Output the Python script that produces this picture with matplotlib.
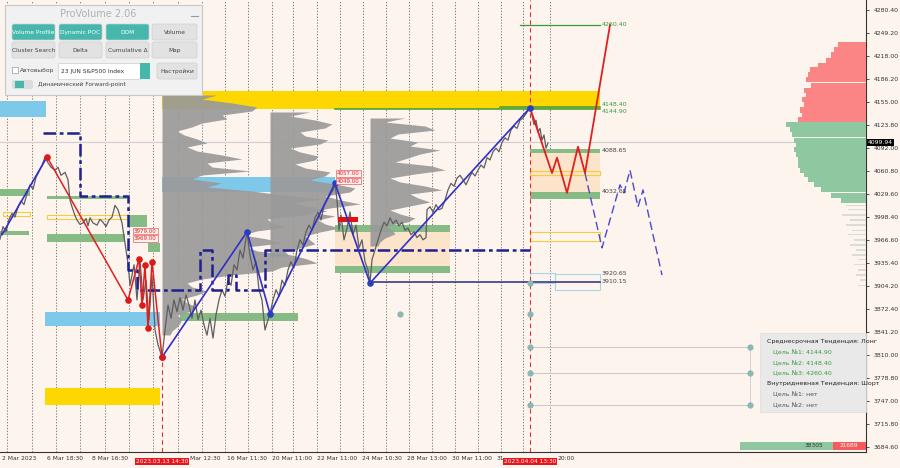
import numpy as np
import matplotlib
matplotlib.use('Agg')
import matplotlib.pyplot as plt
from matplotlib.patches import Rectangle, FancyBboxPatch
import matplotlib.transforms as mtransforms

BG = '#fdf4ee'

# ---------------- data ----------------
price_ticks = [4280.40, 4249.20, 4218.00, 4186.20, 4155.00, 4123.80, 4092.00, 4060.80,
               4029.60, 3998.40, 3966.60, 3935.40, 3904.20, 3872.40, 3841.20, 3810.00,
               3778.80, 3747.00, 3715.80, 3684.60]
time_ticks = [2, 47, 92, 190, 227, 272, 317, 362, 407, 452, 497, 557]
time_labels = ['2 Mar 2023', '6 Mar 18:30', '8 Mar 16:30', 'Mar 12:30', '16 Mar 11:30',
               '20 Mar 11:00', '22 Mar 11:00', '24 Mar 10:30', '28 Mar 13:00',
               '30 Mar 11:00', '31', '20:00']
grid_times = [7, 32, 56, 80, 105, 129, 153, 178, 202, 225, 248, 272, 293, 317, 340, 363,
              386, 409, 432, 455, 478, 501, 523, 550]
highlight_times = [162, 530]
highlight_labels = ['2023.03.13 14:30', '2023.04.04 13:30']
last_price = 4099.94

price_x = [0, 3, 6, 9, 12, 15, 18, 21, 24, 27, 30, 33, 36, 39, 42, 45,
           48, 51, 55, 58, 61, 65, 68, 70, 72, 75, 77, 80, 83, 86, 88, 90, 93, 97, 100, 103,
           106, 109, 112, 115, 118, 122, 125, 128,
           130, 134, 137, 140, 143, 146, 149, 152, 155, 158, 162,
           165, 168, 171, 174, 177, 180, 183, 186, 189, 192, 195, 198, 201, 204, 207, 210,
           213, 216, 219, 222, 225, 228, 231, 234, 237, 240, 243, 247,
           250, 253, 256, 259, 262, 265, 268, 270,
           273, 276, 279, 282, 285, 288, 291, 294, 297, 300, 303, 306, 309, 312, 315, 318,
           321, 324, 327, 330, 333, 335,
           337, 339, 341, 344, 347, 350, 353, 356, 359, 362, 365, 368, 370,
           372, 375, 378, 381, 384, 387, 390, 393, 396, 399, 402, 405, 408, 411, 414, 417,
           420, 423, 426, 427, 430, 433, 436, 439, 442, 445, 448, 451, 454, 457, 460, 463,
           466, 469, 472, 475, 478, 481, 484, 487, 490, 493, 496, 499, 502, 505, 508, 511,
           514, 517, 520, 523, 526, 530,
           532, 534, 536, 538, 540, 542, 544, 546, 548]
price_close = [3968, 3985, 3978, 3995, 4003, 3998, 4012, 4020, 4015, 4030, 4042, 4036, 4052, 4060, 4068, 4080,
               4072, 4066, 4062, 4066, 4055, 4059, 4049, 4021, 4012, 4000, 3994, 3988, 3990, 3996, 3986, 3997, 3990, 3987, 3995, 3991,
               3985, 3994, 3998, 4014, 4008, 3990, 3963, 3935,
               3905, 3933, 3885, 3940, 3885, 3912, 3858, 3919, 3844, 3824, 3807,
               3844, 3878, 3860, 3885, 3869, 3888, 3871, 3892, 3878, 3860, 3885, 3858, 3871, 3851, 3837, 3860,
               3833, 3865, 3885, 3899, 3890, 3912, 3905, 3933, 3926, 3953, 3942, 3978,
               3946, 3926, 3937, 3899, 3885, 3844, 3858, 3866,
               3885, 3899, 3890, 3912, 3905, 3926, 3937, 3929, 3953, 3967, 3960, 3978, 3987, 3980, 3997, 4005,
               3994, 4014, 4021, 4028, 4035, 4044,
               4021, 3980, 4001, 3967, 3983, 4005, 3974, 3987, 3956, 3967, 3937, 3926, 3908,
               3940, 3953, 3967, 3980, 3991, 3986, 3997, 3989, 3994, 3986, 3991, 3980, 3983, 3974, 3978, 3970,
               3974, 3967, 3970, 4008, 4012, 4005, 4015, 4008, 4010, 4021, 4035, 4044, 4040, 4051, 4055, 4049,
               4042, 4051, 4059, 4054, 4062, 4069, 4065, 4079, 4076, 4087, 4092, 4087, 4100, 4106, 4103, 4117,
               4122, 4119, 4130, 4133, 4139, 4147,
               4137, 4124, 4130, 4114, 4119, 4103, 4110, 4092, 4099]

# zigzags
blue_zz1_x = [2, 47]
blue_zz1_p = [3974, 4080]
blue_zz2_x = [162, 247, 270, 335, 370, 530]
blue_zz2_p = [3807, 3978, 3866, 4044, 3908, 4147]
red_zz_x = [47, 128, 139, 142, 145, 148, 152, 162]
red_zz_p = [4080, 3885, 3941, 3878, 3933, 3847, 3937, 3807]
red_fc_x = [530, 552, 557, 567, 578, 585, 610]
red_fc_p = [4147, 4058, 4079, 4031, 4094, 4058, 4260]
blue_fc_x = [585, 602, 620, 624, 630, 638, 643, 662]
blue_fc_p = [4058, 3956, 4042, 4031, 4062, 4012, 4035, 3919]

# dynamic POC steps
poc_x = [43, 80, 80, 128, 128, 137, 137, 200, 200, 212, 212, 228, 228, 236, 236, 265, 265, 530]
poc_p = [4112.7, 4112.7, 4026.8, 4026.8, 3925.9, 3925.9, 3898.6, 3898.6, 3953.2, 3953.2,
         3898.6, 3898.6, 3919.1, 3919.1, 3898.6, 3898.6, 3953.2, 3953.2]

# zones (t0, t1, top, bottom)
yellow_zones = [(162, 600, 4170, 4146), (45, 160, 3765, 3742)]
blue_zones = [(0, 46, 4156, 4134), (162, 335, 4053, 4032), (45, 160, 3869, 3850)]
green_zones = [(530, 600, 4091, 4085), (530, 600, 4032, 4023), (335, 450, 3987, 3978),
               (335, 450, 3931, 3922), (180, 298, 3867, 3856), (0, 30, 4036, 4027),
               (0, 29, 3979, 3973), (47, 127, 4027, 4023), (47, 125, 3975, 3964),
               (128, 147, 4001, 3985), (148, 160, 3963, 3951)]
orange_zones = [(530, 600, 4085, 4032), (335, 450, 3978, 3931)]
yellow_outline = [(530, 600, 4061, 4055), (530, 600, 3978, 3966), (3, 30, 4005, 4000),
                  (47, 128, 4001, 3995)]
blue_outline = [(530, 555, 3922, 3908), (555, 600, 3921, 3898)]
red_zone = [(338, 358, 3998, 3991)]

# volume profiles (gray)
profA_x0 = 162
profA_p = [4164.5, 4159.0, 4153.6, 4148.1, 4142.7, 4137.2, 4131.8, 4126.3, 4120.9, 4115.4,
           4110.0, 4104.5, 4099.1, 4093.6, 4088.1, 4082.7, 4077.2, 4071.8, 4066.3, 4060.9,
           4055.4, 4050.0, 4044.5, 4039.1, 4033.6, 4028.2, 4022.7, 4017.3, 4011.8, 4006.3,
           4000.9, 3995.4, 3990.0, 3984.5, 3979.1, 3973.6, 3968.2, 3962.7, 3957.3, 3951.8,
           3946.3, 3940.9, 3935.4, 3930.0, 3924.5, 3919.1, 3913.6, 3908.2, 3902.7, 3897.3,
           3891.8, 3886.4, 3880.9, 3875.5, 3870.0, 3864.5, 3859.1, 3853.6, 3848.2, 3842.7, 3837.3]
profA_w = [55, 40, 70, 95, 90, 60, 65, 40, 30, 15, 22, 35, 45, 25, 35, 60, 80, 45, 50, 88,
           40, 30, 60, 45, 90, 120, 160, 130, 150, 165, 140, 105, 110, 125, 95, 80, 105, 120,
           85, 95, 130, 145, 155, 120, 110, 70, 40, 25, 30, 45, 35, 20, 25, 35, 30, 15, 20,
           18, 15, 10, 8]
profB_x0 = 270
profB_p = [4141.3, 4135.8, 4130.4, 4124.9, 4119.5, 4114.0, 4108.6, 4103.1, 4097.7, 4092.2,
           4086.8, 4081.3, 4075.9, 4070.4, 4065.0, 4059.5, 4054.1, 4048.6, 4043.2, 4037.7,
           4032.3, 4026.8, 4021.4, 4015.9, 4010.4, 4005.0, 3999.5, 3994.1, 3988.6, 3983.2,
           3977.7, 3972.3, 3966.8, 3961.4, 3955.9, 3950.5, 3945.0]
profB_w = [40, 20, 45, 62, 55, 30, 35, 58, 50, 20, 30, 48, 45, 25, 35, 60, 55, 40, 65, 85,
           80, 55, 70, 90, 60, 40, 65, 48, 55, 70, 50, 35, 40, 45, 30, 15, 20]
profC_x0 = 370
profC_p = [4133.1, 4127.6, 4122.2, 4116.7, 4111.3, 4105.8, 4100.4, 4094.9, 4089.5, 4084.0,
           4078.6, 4073.1, 4067.7, 4062.2, 4056.8, 4051.3, 4045.9, 4040.4, 4035.0, 4029.5,
           4024.1, 4018.6, 4013.2, 4007.7, 4002.3, 3996.8, 3991.4, 3985.9, 3980.4, 3975.0,
           3969.5, 3964.1, 3958.6]
profC_w = [35, 15, 55, 65, 28, 20, 48, 40, 70, 50, 38, 25, 62, 75, 45, 20, 30, 55, 72, 40,
           48, 60, 40, 20, 30, 45, 38, 15, 22, 25, 15, 10, 8]

# right-side market profile
sell_p = [4233, 4226, 4219, 4212, 4205, 4199, 4192, 4185, 4178, 4171, 4165, 4158, 4151,
          4144, 4137, 4131]
sell_w = [28, 32, 35, 40, 48, 56, 58, 60, 55, 62, 60, 64, 62, 66, 64, 68]
buy_p = [4124, 4117, 4110, 4103, 4096, 4090, 4083, 4076, 4069, 4062, 4056, 4049, 4042,
         4035, 4028, 4021]
buy_w = [80, 76, 74, 72, 70, 72, 70, 68, 68, 66, 62, 58, 52, 45, 35, 25]
thin_p = [4014, 4008, 4001, 3994, 3987, 3980, 3974, 3967, 3960, 3953, 3946, 3940, 3933,
          3926, 3919, 3912, 3905]
thin_w = [20, 18, 24, 16, 20, 14, 18, 12, 16, 10, 14, 8, 12, 8, 10, 6, 8]
buy_volume, sell_volume = 38305, 21689

# levels with labels (price, text, colour, vertical alignment)
level_labels = [(4260.40, '4260.40', '#3a9a3a', 'center'), (4148.40, '4148.40', '#3a9a3a', 'bottom'),
                (4144.90, '4144.90', '#3a9a3a', 'top'), (4088.65, '4088.65', '#444444', 'center'),
                (4032.65, '4032.65', '#444444', 'center'), (3920.65, '3920.65', '#444444', 'center'),
                (3910.15, '3910.15', '#444444', 'center')]
target_levels = [3820.9, 3785.5, 3741.8]

# ---------------- figure ----------------
fig = plt.figure(figsize=(9, 4.68), dpi=100, facecolor=BG)
ax = fig.add_axes([0, 16 / 468, 866 / 900, 452 / 468])
ax.set_facecolor(BG)
ax.set_xlim(0, 866)
ax.set_ylim(3677.7, 4294.0)

for g in grid_times:
    ax.axvline(g, color='#666666', lw=0.6, ls=(0, (1.5, 2)), zorder=1)

def rect(t0, t1, top, bot, **kw):
    ax.add_patch(Rectangle((t0, bot), t1 - t0, top - bot, **kw))

for z in orange_zones:
    rect(*z, facecolor='#fbe4c9', edgecolor='none', zorder=1.5)
for z in yellow_zones:
    rect(*z, facecolor='#ffd700', edgecolor='none', zorder=2)
for z in blue_zones:
    rect(*z, facecolor='#7ec9ea', edgecolor='none', zorder=2)
for z in green_zones:
    rect(*z, facecolor='#86bb86', edgecolor='none', zorder=2)
for z in yellow_outline:
    rect(*z, facecolor='none', edgecolor='#f2cf3a', lw=0.8, zorder=2.2)
for z in blue_outline:
    rect(*z, facecolor='none', edgecolor='#a9d6e6', lw=0.8, zorder=2.2)
for z in red_zone:
    rect(*z, facecolor='#e01010', edgecolor='none', zorder=5)

# gray volume profiles
for x0, ps, ws in [(profA_x0, profA_p, profA_w), (profB_x0, profB_p, profB_w),
                   (profC_x0, profC_p, profC_w)]:
    ps = np.array(ps)
    ax.fill_betweenx(ps, x0, x0 + np.array(ws), color='#9a9a9a', lw=0, alpha=0.92, zorder=3)

# right market profile
ax.barh(sell_p, sell_w, left=866 - np.array(sell_w), height=6.9, color='#fb8585', lw=0, zorder=3)
ax.barh(buy_p, buy_w, left=866 - np.array(buy_w), height=6.9, color='#8fc8a0', lw=0, zorder=3)
ax.barh(thin_p, thin_w, left=866 - np.array(thin_w), height=2.0, color='#dcdcd2', lw=0, zorder=3)

# current price line
ax.axhline(last_price, color='#cfcfcf', lw=0.8, zorder=2.5)

# vertical red dashed
ax.plot([highlight_times[0]] * 2, [3677.7, 3807], color='#e03030', lw=0.8, ls=(0, (4, 3)), zorder=4)
ax.axvline(highlight_times[1], color='#e03030', lw=0.8, ls=(0, (4, 3)), zorder=4)

# price line
ax.plot(price_x, price_close, color='#5e5e5e', lw=0.9, zorder=4)

# POC / levels
ax.plot(poc_x, poc_p, color='#1f1f8f', lw=1.8, ls=(0, (5, 1.5, 1.5, 1.5)), zorder=5)
ax.plot([370, 600], [3910.15, 3910.15], color='#2a2a7a', lw=1.1, zorder=5)
ax.plot([520, 600], [4260.40, 4260.40], color='#3a9a3a', lw=0.9, zorder=5)
ax.plot([500, 600], [4148.40, 4148.40], color='#3a9a3a', lw=1.1, zorder=5)
ax.plot([335, 600], [4144.90, 4144.90], color='#3a9a3a', lw=1.1, zorder=5)

# zigzags
ax.plot(blue_zz1_x, blue_zz1_p, color='#3030c8', lw=1.2, zorder=6)
ax.plot(blue_zz2_x, blue_zz2_p, color='#3030c8', lw=1.2, zorder=6)
ax.plot(red_zz_x, red_zz_p, color='#e02020', lw=1.1, zorder=6)
ax.scatter(blue_zz2_x, blue_zz2_p, s=14, color='#2a3fc0', zorder=7)
ax.scatter(red_zz_x, red_zz_p, s=14, color='#e01818', zorder=7)
ax.plot(red_fc_x, red_fc_p, color='#e02020', lw=1.3, zorder=6)
ax.plot(blue_fc_x, blue_fc_p, color='#4a4ad0', lw=1.0, ls=(0, (6, 3)), zorder=6)

# targets dots / lines
for tp in target_levels:
    ax.plot([530, 750], [tp, tp], color='#c8c8c8', lw=0.7, zorder=3)
    ax.scatter([530, 750], [tp, tp], s=12, color='#8ab8b4', zorder=6)
ax.plot([750, 750], [target_levels[0], target_levels[-1]], color='#d0d0d0', lw=0.7, zorder=3)
ax.scatter([530, 530, 400], [3908.2, 3865.9, 3865.9], s=12, color='#8ab8b4', zorder=6)

# level labels
for p, s, c, va in level_labels:
    ax.text(602, p, s, fontsize=4.5, color=c, va=va, ha='left', zorder=8)

# small red price boxes
for t, p, s in [(337, 4057, '4057.00'), (337, 4047, '4049.00'), (134, 3979, '3979.00'), (134, 3969, '3969.00')]:
    ax.text(t, p, s, fontsize=4.0, color='#e02020', va='center', ha='left', zorder=8,
            bbox=dict(boxstyle='square,pad=0.15', facecolor='#fff0ee', edgecolor='#e06060', lw=0.5))

# axes styling
ax.yaxis.tick_right()
ax.set_yticks(price_ticks)
ax.set_yticklabels([f'{v:.2f}' for v in price_ticks], fontsize=4.4, color='#333333')
ax.tick_params(axis='y', length=2.5, width=0.6, pad=3, color='#333333')
ax.set_xticks(time_ticks)
ax.set_xticklabels(time_labels, fontsize=4.3, color='#333333', ha='left')
ax.tick_params(axis='x', length=0, pad=3)
for sp in ['top', 'left']:
    ax.spines[sp].set_visible(False)
for sp in ['right', 'bottom']:
    ax.spines[sp].set_color('#333333')
    ax.spines[sp].set_linewidth(0.8)

trans = mtransforms.blended_transform_factory(ax.transData, ax.transAxes)
for t, s in zip(highlight_times, highlight_labels):
    ax.text(t, -0.021, s, transform=trans, fontsize=4.2, color='white', ha='center', va='center',
            zorder=10, clip_on=False,
            bbox=dict(boxstyle='square,pad=0.2', facecolor='#e8141c', edgecolor='none'))
transr = mtransforms.blended_transform_factory(ax.transAxes, ax.transData)
ax.text(1.002, last_price, f'{last_price:.2f}', transform=transr, fontsize=4.4, color='white',
        ha='left', va='center', zorder=10, clip_on=False,
        bbox=dict(boxstyle='square,pad=0.2', facecolor='black', edgecolor='none'))

# volume bar bottom right
rect(740, 833, 3692, 3680, facecolor='#8fc8a0', edgecolor='none', zorder=6)
rect(833, 866, 3692, 3680, facecolor='#f65a5a', edgecolor='none', zorder=6)
ax.text(814, 3686, f'{buy_volume}', fontsize=4.2, color='#333333', ha='center', va='center', zorder=8)
ax.text(849, 3686, f'{sell_volume}', fontsize=4.2, color='white', ha='center', va='center', zorder=8)

# ---------------- overlay (pixel coords) ----------------
ov = fig.add_axes([0, 0, 1, 1])
ov.set_xlim(0, 900)
ov.set_ylim(468, 0)
ov.axis('off')
ov.patch.set_alpha(0)

# info box
ov.add_patch(Rectangle((760, 333), 106, 79, facecolor='#e9e9e9', edgecolor='#dddddd', lw=0.5))
info = [('Среднесрочная Тенденция: Лонг', '#222222', 767, 341),
        ('Цель №1: 4144.90', '#3a9a3a', 773, 352),
        ('Цель №2: 4148.40', '#3a9a3a', 773, 363),
        ('Цель №3: 4260.40', '#3a9a3a', 773, 373),
        ('Внутридневная Тенденция: Шорт', '#222222', 767, 383),
        ('Цель №1: нет', '#555555', 773, 394),
        ('Цель №2: нет', '#555555', 773, 405)]
for s, c, x, y in info:
    ov.text(x, y, s, fontsize=4.5, color=c, ha='left', va='center', clip_on=True)

# ProVolume panel
ov.add_patch(Rectangle((5, 5), 197, 90, facecolor='#f1f1f1', edgecolor='#c9c9c9', lw=0.8))
ov.text(98, 14, 'ProVolume 2.06', fontsize=7, color='#b0b0b0', ha='center', va='center')
ov.plot([191, 198], [16, 16], color='#999999', lw=0.8)
TEAL = '#45b7ad'
btns = [('Volume Profile', 12, 24, True), ('Dynamic POC', 59, 24, True), ('DOM', 106, 24, True),
        ('Volume', 152, 24, False), ('Cluster Search', 12, 42, False), ('Delta', 59, 42, False),
        ('Cumulative Δ', 106, 42, False), ('Map', 152, 42, False)]
for s, x, y, on in btns:
    w = 43 if x != 152 else 45
    ov.add_patch(FancyBboxPatch((x, y), w, 16, boxstyle='round,pad=0,rounding_size=2',
                                facecolor=TEAL if on else '#e2e2e2', edgecolor='#cfcfcf', lw=0.5))
    ov.text(x + w / 2, y + 8.5, s, fontsize=4.2, color='white' if on else '#444444',
            ha='center', va='center')
ov.add_patch(Rectangle((12, 67), 6, 6, facecolor='white', edgecolor='#999999', lw=0.5))
ov.text(20, 70.5, 'Автовыбор', fontsize=4.3, color='#444444', ha='left', va='center')
ov.add_patch(Rectangle((58, 63), 82, 16, facecolor='white', edgecolor='#cccccc', lw=0.5))
ov.text(61, 71, '23 JUN S&P500 Index', fontsize=4.2, color='#333333', ha='left', va='center')
ov.add_patch(Rectangle((140, 63), 10, 16, facecolor=TEAL, edgecolor='none'))
ov.add_patch(FancyBboxPatch((157, 63), 40, 16, boxstyle='round,pad=0,rounding_size=2',
                            facecolor='#e2e2e2', edgecolor='#cfcfcf', lw=0.5))
ov.text(177, 71, 'Настройки', fontsize=4.3, color='#444444', ha='center', va='center')
ov.add_patch(FancyBboxPatch((12, 80), 21, 9, boxstyle='round,pad=0,rounding_size=2',
                            facecolor='#dcdcdc', edgecolor='none'))
ov.add_patch(Rectangle((15, 81), 9, 7, facecolor=TEAL, edgecolor='none'))
ov.text(38, 84.5, 'Динамический Forward-point', fontsize=4.2, color='#444444', ha='left', va='center')

fig.savefig('out.png', dpi=100, facecolor=BG)
